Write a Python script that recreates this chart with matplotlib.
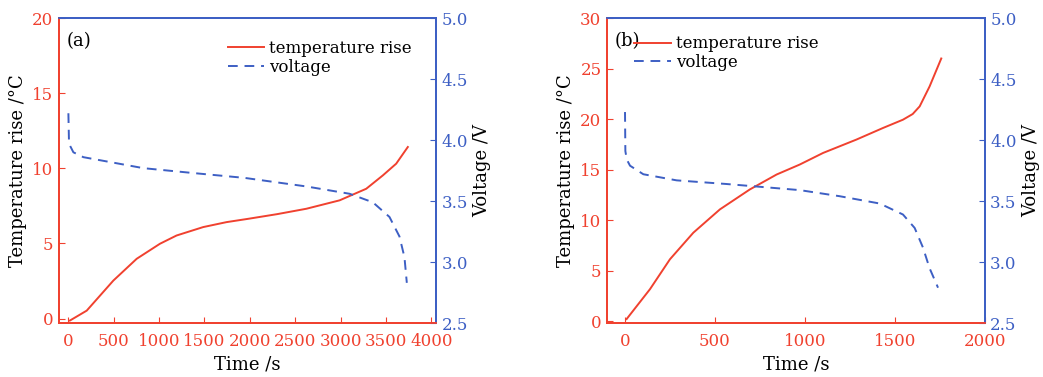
import matplotlib
matplotlib.use('Agg')
import matplotlib.pyplot as plt

plt.rcParams['font.family'] = ['DejaVu Serif']

RED = '#f0412f'
BLUE = '#3d5fc4'

# panel (a)
time_a = [20, 205, 498, 755, 1011, 1194, 1487, 1744, 1982, 2300, 2623, 2989, 3282, 3465, 3612, 3740]
temp_a = [-0.13, 0.53, 2.53, 3.98, 4.98, 5.53, 6.09, 6.42, 6.64, 6.95, 7.31, 7.87, 8.64, 9.53, 10.31, 11.42]
vtime_a = [3, 10, 58, 168, 462, 828, 1377, 1945, 2623, 3099, 3355, 3538, 3648, 3703, 3729]
volt_a = [4.22, 3.97, 3.90, 3.86, 3.82, 3.77, 3.73, 3.69, 3.62, 3.56, 3.49, 3.37, 3.21, 3.04, 2.83]

# panel (b)
time_b = [9, 139, 250, 380, 528, 694, 843, 972, 1102, 1287, 1435, 1546, 1600, 1639, 1694, 1759]
temp_b = [0.2, 3.16, 6.12, 8.75, 11.06, 13.03, 14.51, 15.5, 16.65, 17.97, 19.12, 19.94, 20.5, 21.26, 23.23, 26.0]
vtime_b = [0, 2, 10, 28, 102, 287, 565, 972, 1194, 1417, 1546, 1611, 1657, 1694, 1741]
volt_b = [4.23, 3.91, 3.84, 3.79, 3.72, 3.67, 3.64, 3.59, 3.54, 3.48, 3.39, 3.28, 3.12, 2.95, 2.79]

panels = [
    dict(label='(a)', t=time_a, T=temp_a, vt=vtime_a, v=volt_a,
         xlim=(-100, 4050), xticks=[0, 500, 1000, 1500, 2000, 2500, 3000, 3500, 4000],
         ylim=(-0.3, 20), yticks=[0, 5, 10, 15, 20],
         rect=[0.0566, 0.143, 0.3614, 0.809], leg=(0.43, 0.95)),
    dict(label='(b)', t=time_b, T=temp_b, vt=vtime_b, v=volt_b,
         xlim=(-100, 2000), xticks=[0, 500, 1000, 1500, 2000],
         ylim=(-0.2, 30), yticks=[0, 5, 10, 15, 20, 25, 30],
         rect=[0.582, 0.143, 0.362, 0.809], leg=(0.055, 0.965)),
]

fig = plt.figure(figsize=(10.43, 3.77), dpi=100)

for p in panels:
    ax = fig.add_axes(p['rect'])
    ax2 = ax.twinx()

    l1, = ax.plot(p['t'], p['T'], color=RED, lw=1.4, label='temperature rise')
    l2, = ax2.plot(p['vt'], p['v'], color=BLUE, lw=1.4, ls=(0, (5, 3.5)), label='voltage')

    ax.set_xlim(*p['xlim'])
    ax.set_xticks(p['xticks'])
    ax.set_ylim(*p['ylim'])
    ax.set_yticks(p['yticks'])
    ax2.set_ylim(2.5, 5.0)
    ax2.set_yticks([2.5, 3.0, 3.5, 4.0, 4.5, 5.0])
    ax2.set_yticklabels(['2.5', '3.0', '3.5', '4.0', '4.5', '5.0'])

    ax.tick_params(axis='both', direction='in', length=4, labelsize=12, colors=RED, pad=4)
    ax.tick_params(axis='x', pad=7)
    ax2.tick_params(axis='y', direction='in', length=4, labelsize=12, colors=BLUE, pad=4)

    for a in (ax, ax2):
        a.spines['left'].set_color(RED)
        a.spines['bottom'].set_color(RED)
        a.spines['right'].set_color(BLUE)
        a.spines['top'].set_color(BLUE)
        for s in a.spines.values():
            s.set_linewidth(1.3)

    ax.set_xlabel('Time /s', fontsize=13, labelpad=4)
    ax.set_ylabel('Temperature rise /\u00b0C', fontsize=13, labelpad=4)
    ax2.set_ylabel('Voltage /V', fontsize=13, labelpad=4)

    ax2.text(0.02, 0.955, p['label'], transform=ax.transAxes, fontsize=13, va='top', ha='left')
    ax2.legend([l1, l2], ['temperature rise', 'voltage'], loc='upper left',
               bbox_to_anchor=p['leg'], frameon=False, fontsize=12,
               handlelength=2.2, handletextpad=0.3, labelspacing=0.1, borderaxespad=0)

fig.savefig('out.png', dpi=100)
